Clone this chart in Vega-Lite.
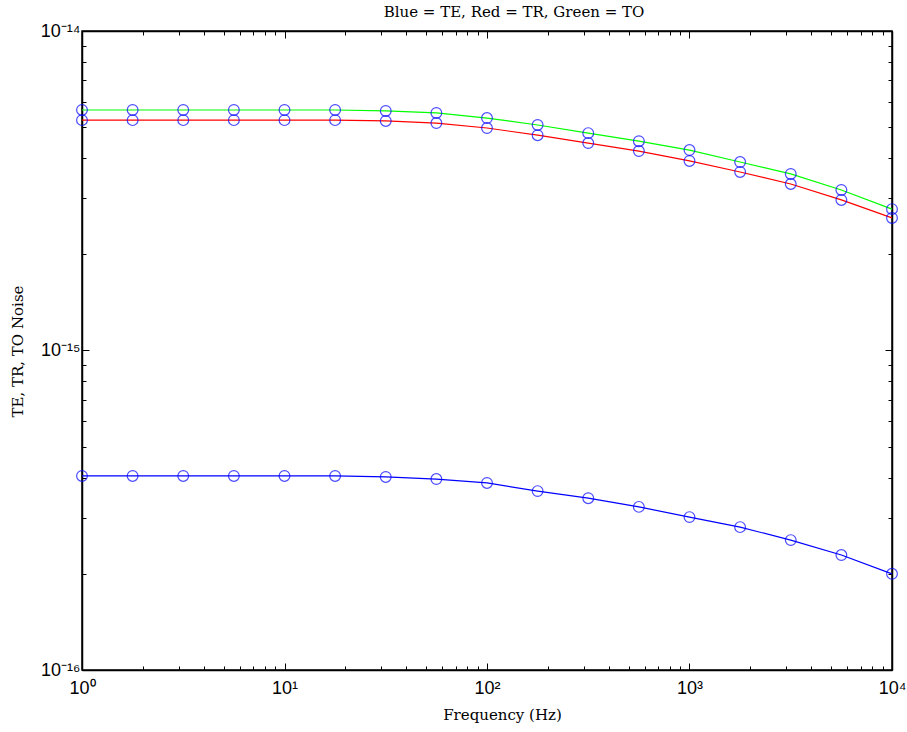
{
  "$schema": "https://vega.github.io/schema/vega-lite/v6.json",
  "width": 810,
  "height": 639,
  "autosize": {"type": "none"},
  "padding": {"left": 82, "top": 31, "right": 15, "bottom": 62},
  "background": "white",
  "config": {
    "view": {"stroke": "black", "strokeWidth": 1.5},
    "axis": {
      "domainColor": "black",
      "domainWidth": 1.5,
      "tickColor": "black",
      "tickWidth": 1,
      "grid": false,
      "labelFont": "Liberation Sans",
      "labelFontSize": 18,
      "labelColor": "black",
      "titleFont": "DejaVu Serif",
      "titleFontWeight": "normal",
      "titleFontSize": 15,
      "titleColor": "black"
    }
  },
  "title": {
    "text": "Blue = TE, Red = TR, Green = TO",
    "font": "DejaVu Serif",
    "fontSize": 15,
    "fontWeight": "normal",
    "color": "black",
    "offset": 2,
    "dx": 27
  },
  "data": {
    "values": [
      {"f": 1, "v": 5.66e-15, "s": "TO"},
      {"f": 1.7783, "v": 5.66e-15, "s": "TO"},
      {"f": 3.1623, "v": 5.66e-15, "s": "TO"},
      {"f": 5.6234, "v": 5.66e-15, "s": "TO"},
      {"f": 10, "v": 5.66e-15, "s": "TO"},
      {"f": 17.783, "v": 5.66e-15, "s": "TO"},
      {"f": 31.623, "v": 5.62e-15, "s": "TO"},
      {"f": 56.234, "v": 5.54e-15, "s": "TO"},
      {"f": 100, "v": 5.34e-15, "s": "TO"},
      {"f": 177.83, "v": 5.08e-15, "s": "TO"},
      {"f": 316.23, "v": 4.79e-15, "s": "TO"},
      {"f": 562.34, "v": 4.52e-15, "s": "TO"},
      {"f": 1000, "v": 4.24e-15, "s": "TO"},
      {"f": 1778.3, "v": 3.89e-15, "s": "TO"},
      {"f": 3162.3, "v": 3.57e-15, "s": "TO"},
      {"f": 5623.4, "v": 3.18e-15, "s": "TO"},
      {"f": 10000, "v": 2.77e-15, "s": "TO"},
      {"f": 1, "v": 5.26e-15, "s": "TR"},
      {"f": 1.7783, "v": 5.26e-15, "s": "TR"},
      {"f": 3.1623, "v": 5.26e-15, "s": "TR"},
      {"f": 5.6234, "v": 5.26e-15, "s": "TR"},
      {"f": 10, "v": 5.26e-15, "s": "TR"},
      {"f": 17.783, "v": 5.26e-15, "s": "TR"},
      {"f": 31.623, "v": 5.23e-15, "s": "TR"},
      {"f": 56.234, "v": 5.15e-15, "s": "TR"},
      {"f": 100, "v": 4.97e-15, "s": "TR"},
      {"f": 177.83, "v": 4.72e-15, "s": "TR"},
      {"f": 316.23, "v": 4.46e-15, "s": "TR"},
      {"f": 562.34, "v": 4.21e-15, "s": "TR"},
      {"f": 1000, "v": 3.92e-15, "s": "TR"},
      {"f": 1778.3, "v": 3.62e-15, "s": "TR"},
      {"f": 3162.3, "v": 3.32e-15, "s": "TR"},
      {"f": 5623.4, "v": 2.96e-15, "s": "TR"},
      {"f": 10000, "v": 2.60e-15, "s": "TR"},
      {"f": 1, "v": 4.05e-16, "s": "TE"},
      {"f": 1.7783, "v": 4.05e-16, "s": "TE"},
      {"f": 3.1623, "v": 4.05e-16, "s": "TE"},
      {"f": 5.6234, "v": 4.05e-16, "s": "TE"},
      {"f": 10, "v": 4.05e-16, "s": "TE"},
      {"f": 17.783, "v": 4.05e-16, "s": "TE"},
      {"f": 31.623, "v": 4.02e-16, "s": "TE"},
      {"f": 56.234, "v": 3.96e-16, "s": "TE"},
      {"f": 100, "v": 3.85e-16, "s": "TE"},
      {"f": 177.83, "v": 3.63e-16, "s": "TE"},
      {"f": 316.23, "v": 3.45e-16, "s": "TE"},
      {"f": 562.34, "v": 3.24e-16, "s": "TE"},
      {"f": 1000, "v": 3.01e-16, "s": "TE"},
      {"f": 1778.3, "v": 2.80e-16, "s": "TE"},
      {"f": 3162.3, "v": 2.55e-16, "s": "TE"},
      {"f": 5623.4, "v": 2.29e-16, "s": "TE"},
      {"f": 10000, "v": 2.00e-16, "s": "TE"}
    ]
  },
  "layer": [
    {
      "mark": {"type": "line", "strokeWidth": 1.2, "clip": false},
      "encoding": {
        "x": {
          "field": "f", "type": "quantitative",
          "scale": {"type": "log", "domain": [1, 10000], "nice": false},
          "axis": {
            "orient": "bottom",
            "title": "Frequency (Hz)",
            "titleX": 420,
            "titleY": 44,
            "titleBaseline": "middle",
            "values": [1,2,3,4,5,6,7,8,9,10,20,30,40,50,60,70,80,90,100,200,300,400,500,600,700,800,900,1000,2000,3000,4000,5000,6000,7000,8000,9000,10000],
            "labelExpr": "datum.value == 1 ? '10⁰' : datum.value == 10 ? '10¹' : datum.value == 100 ? '10²' : datum.value == 1000 ? '10³' : datum.value == 10000 ? '10⁴' : ''",
            "tickSize": {"condition": {"test": "datum.value == 1 || datum.value == 10 || datum.value == 100 || datum.value == 1000 || datum.value == 10000", "value": -7}, "value": -4},
            "labelPadding": 16,
            "labelFlush": false,
            "labelOverlap": false
          }
        },
        "y": {
          "field": "v", "type": "quantitative",
          "scale": {"type": "log", "domain": [1e-16, 1e-14], "nice": false},
          "axis": {
            "orient": "left",
            "title": "TE, TR, TO Noise",
            "titleX": -65,
            "titleY": 320,
            "titleAngle": -90,
            "titleBaseline": "middle",
            "titleAlign": "center",
            "values": [1e-16,2e-16,3e-16,4e-16,5e-16,6e-16,7e-16,8e-16,9e-16,1e-15,2e-15,3e-15,4e-15,5e-15,6e-15,7e-15,8e-15,9e-15,1e-14],
            "labelExpr": "datum.value == 1e-16 ? '10⁻¹⁶' : datum.value == 1e-15 ? '10⁻¹⁵' : datum.value == 1e-14 ? '10⁻¹⁴' : ''",
            "tickSize": {"condition": {"test": "datum.value == 1e-16 || datum.value == 1e-15 || datum.value == 1e-14", "value": -7}, "value": -4},
            "labelPadding": 9,
            "labelFlush": false,
            "labelOverlap": false
          }
        },
        "color": {
          "field": "s", "type": "nominal",
          "scale": {"domain": ["TE", "TR", "TO"], "range": ["#0000ff", "#ff0000", "#00ff00"]},
          "legend": null
        }
      }
    },
    {
      "mark": {"type": "point", "shape": "circle", "filled": false, "color": "#0000ff", "size": 115, "strokeWidth": 1.2, "clip": false},
      "encoding": {
        "x": {
          "field": "f", "type": "quantitative",
          "axis": {
            "orient": "top",
            "title": null,
            "values": [1,2,3,4,5,6,7,8,9,10,20,30,40,50,60,70,80,90,100,200,300,400,500,600,700,800,900,1000,2000,3000,4000,5000,6000,7000,8000,9000,10000],
            "labels": false,
            "tickSize": {"condition": {"test": "datum.value == 1 || datum.value == 10 || datum.value == 100 || datum.value == 1000 || datum.value == 10000", "value": -7}, "value": -4}
          }
        },
        "y": {
          "field": "v", "type": "quantitative",
          "axis": {
            "orient": "right",
            "title": null,
            "values": [1e-16,2e-16,3e-16,4e-16,5e-16,6e-16,7e-16,8e-16,9e-16,1e-15,2e-15,3e-15,4e-15,5e-15,6e-15,7e-15,8e-15,9e-15,1e-14],
            "labels": false,
            "tickSize": {"condition": {"test": "datum.value == 1e-16 || datum.value == 1e-15 || datum.value == 1e-14", "value": -7}, "value": -4}
          }
        }
      }
    }
  ]
}
